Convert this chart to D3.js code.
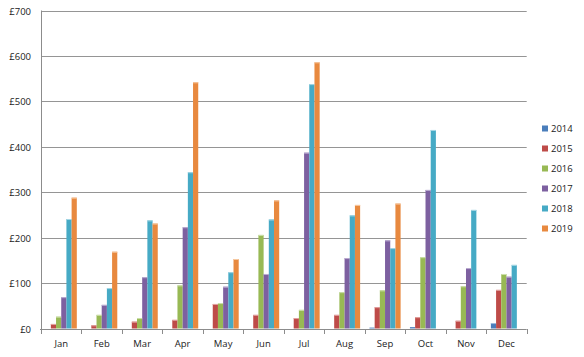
<!DOCTYPE html>
<html>
<head>
<meta charset="utf-8">
<script src="https://cdn.jsdelivr.net/npm/d3@7"></script>
<style>
  html, body { margin: 0; padding: 0; background: #fff; }
  svg { display: block; }
  text { font-family: "Open Sans", "Noto Sans", sans-serif; fill: #222; }
</style>
</head>
<body>
<svg id="chart" width="584" height="357"></svg>
<script>
const months = ["Jan","Feb","Mar","Apr","May","Jun","Jul","Aug","Sep","Oct","Nov","Dec"];
const years = ["2014","2015","2016","2017","2018","2019"];
const v2014 = [0, 0, 0, 0, 0, 0, 0, 0, 2, 3, 0, 12];
const v2015 = [10, 7, 15, 19, 54, 30, 23, 30, 47, 25, 17, 85];
const v2016 = [26, 30, 23, 95, 56, 206, 41, 80, 84, 157, 93, 120];
const v2017 = [69, 52, 113, 223, 92, 120, 387, 155, 194, 305, 133, 114];
const v2018 = [241, 89, 238, 344, 124, 240, 538, 249, 177, 437, 261, 140];
const v2019 = [288, 169, 231, 542, 153, 282, 586, 272, 275, 0, 0, 0];
const yTicks = [0, 100, 200, 300, 400, 500, 600, 700];
const tickLabels = ["£0","£100","£200","£300","£400","£500","£600","£700"];
const colors = ["#4A7EBB", "#BE4B48", "#98B954", "#7D60A0", "#46AAC5", "#E8893F"];
const highlights = ["#9fbde0", "#e3a3a1", "#cde0ad", "#bcaed2", "#a6d7e4", "#f6c8a0"];

const series = [v2014, v2015, v2016, v2017, v2018, v2019];
const data = months.map((m, i) => ({ month: m, values: years.map((yr, j) => ({ year: yr, idx: j, value: series[j][i] })) }));

const svg = d3.select("#chart");
const mLeft = 41, mRight = 526.7, mTop = 10.5, mBottom = 328.5;

const x0 = d3.scaleBand().domain(months).range([mLeft, mRight]).paddingInner(0).paddingOuter(0);
const x1 = d3.scaleBand().domain(years).range([0, x0.bandwidth()]).paddingInner(0).paddingOuter(0.9);
const y = d3.scaleLinear().domain([0, 700]).range([mBottom, mTop]);

// gridlines
svg.append("g").selectAll("line").data(yTicks.filter(d => d > 0)).join("line")
  .attr("x1", mLeft).attr("x2", mRight)
  .attr("y1", d => Math.round(y(d)) + 0.5).attr("y2", d => Math.round(y(d)) + 0.5)
  .attr("stroke", "#959595").attr("stroke-width", 1);

// y labels
svg.append("g").selectAll("text").data(yTicks).join("text")
  .attr("x", 31).attr("y", d => Math.round(y(d)) + 0.5)
  .attr("text-anchor", "end").attr("dominant-baseline", "central")
  .attr("font-size", "9.5px")
  .text((d, i) => tickLabels[i]);

// bars
const groups = svg.append("g").selectAll("g").data(data).join("g")
  .attr("transform", d => `translate(${x0(d.month)},0)`);
groups.selectAll("rect.bar").data(d => d.values.filter(v => v.value > 0)).join("rect")
  .attr("class", "bar")
  .attr("x", d => x1(d.year))
  .attr("width", x1.bandwidth())
  .attr("y", d => y(d.value))
  .attr("height", d => y(0) - y(d.value))
  .attr("fill", d => colors[d.idx]);
groups.selectAll("rect.hl").data(d => d.values.filter(v => v.value > 4)).join("rect")
  .attr("class", "hl")
  .attr("x", d => x1(d.year))
  .attr("width", x1.bandwidth())
  .attr("y", d => y(d.value))
  .attr("height", 1)
  .attr("fill", d => highlights[d.idx]);

// y axis line
svg.append("line").attr("x1", mLeft + 0.5).attr("x2", mLeft + 0.5).attr("y1", mTop).attr("y2", mBottom + 0.5)
  .attr("stroke", "#8c8c8c");

// x axis
const xAxis = svg.append("g");
xAxis.append("line").attr("x1", mLeft - 1).attr("x2", mRight).attr("y1", Math.round(mBottom) + 0.5).attr("y2", Math.round(mBottom) + 0.5)
  .attr("stroke", "#8c8c8c");
const tickPos = months.map(m => x0(m)).concat([mRight]);
xAxis.selectAll("line.tick").data(tickPos).join("line").attr("class", "tick")
  .attr("x1", d => Math.round(d) + 0.5).attr("x2", d => Math.round(d) + 0.5)
  .attr("y1", Math.round(mBottom)).attr("y2", Math.round(mBottom) + 5)
  .attr("stroke", "#8c8c8c");
xAxis.selectAll("text").data(months).join("text")
  .attr("x", d => x0(d) + x0.bandwidth() / 2)
  .attr("y", 343)
  .attr("text-anchor", "middle").attr("dominant-baseline", "central")
  .attr("font-size", "9.5px")
  .text(d => d);

// legend
const legend = svg.append("g").selectAll("g").data(years).join("g")
  .attr("transform", (d, i) => `translate(542, ${128.5 + i * 20})`);
legend.append("rect").attr("x", 0).attr("y", -3).attr("width", 6).attr("height", 6)
  .attr("fill", (d, i) => colors[i]);
legend.append("text").attr("x", 9).attr("y", 0).attr("dominant-baseline", "central")
  .attr("font-size", "9.5px").text(d => d);
</script>
</body>
</html>
